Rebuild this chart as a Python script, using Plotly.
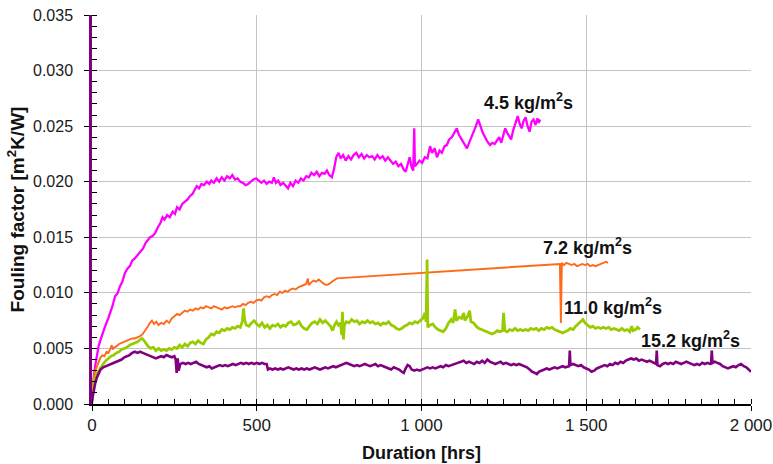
import plotly.graph_objects as go

# ---------------- data ----------------
x_tick_vals = [0, 500, 1000, 1500, 2000]
x_tick_text = ["0", "500", "1 000", "1 500", "2 000"]
y_tick_vals = [0.000, 0.005, 0.010, 0.015, 0.020, 0.025, 0.030, 0.035]

series_names = ["4.5 kg/m²s", "7.2 kg/m²s", "11.0 kg/m²s", "15.2 kg/m²s"]
series_colors = ["#ff00ff", "#ff6a1a", "#99cc00", "#800080"]

mag_hrs = [0, 3, 6, 10, 15, 20, 25, 32, 40, 48, 55, 62, 70, 78, 85, 92, 100, 108, 115, 122,
           130, 138, 146, 155, 163, 170, 176, 184, 192, 200, 208, 214, 220, 228, 236, 245, 252, 258, 266, 274,
           282, 290, 297, 305, 312, 318, 325, 332, 340, 348, 356, 362, 370, 378, 386, 394, 402, 410, 418, 426,
           434, 442, 450, 458, 466, 474, 482, 490, 498, 506, 514, 522, 530, 538, 546, 552, 558, 565, 572, 580,
           588, 595, 602, 610, 618, 626, 634, 642, 650, 658, 666, 674, 682, 690, 698, 706, 713, 720, 728, 735,
           741, 748, 755, 762, 770, 778, 786, 794, 802, 810, 818, 826, 834, 842, 850, 858, 866, 874, 882, 890,
           898, 906, 914, 922, 930, 938, 946, 952, 958, 964, 970, 975, 978, 980, 986, 994, 1002, 1010, 1018, 1026,
           1032, 1040, 1047, 1055, 1062, 1070, 1077, 1084, 1092, 1100, 1107, 1114, 1122, 1130, 1138, 1146, 1152, 1158, 1165, 1172,
           1178, 1186, 1193, 1200, 1208, 1215, 1222, 1230, 1236, 1242, 1248, 1254, 1260, 1266, 1272, 1278, 1285, 1292, 1298, 1304,
           1310, 1316, 1322, 1328, 1334, 1340, 1346, 1352, 1356, 1360]
mag_val = [0.0000, 0.0018, 0.0026, 0.0035, 0.0044, 0.0052, 0.0057, 0.0064, 0.0070, 0.0076, 0.0082, 0.0088, 0.0097, 0.0100, 0.0106, 0.0110, 0.0118, 0.0122, 0.0124, 0.0129,
           0.0131, 0.0134, 0.0136, 0.0140, 0.0145, 0.0148, 0.0150, 0.0151, 0.0154, 0.0159, 0.0163, 0.0168, 0.0166, 0.0170, 0.0168, 0.0173, 0.0171, 0.0177, 0.0175, 0.0180,
           0.0182, 0.0184, 0.0187, 0.0189, 0.0193, 0.0196, 0.0194, 0.0198, 0.0197, 0.0200, 0.0198, 0.0201, 0.0199, 0.0203, 0.0200, 0.0204, 0.0201, 0.0205, 0.0203, 0.0206,
           0.0202, 0.0203, 0.0200, 0.0199, 0.0197, 0.0198, 0.0200, 0.0202, 0.0203, 0.0201, 0.0199, 0.0201, 0.0198, 0.0200, 0.0199, 0.0204, 0.0199, 0.0201, 0.0197, 0.0199,
           0.0196, 0.0194, 0.0199, 0.0196, 0.0201, 0.0199, 0.0203, 0.0201, 0.0205, 0.0204, 0.0208, 0.0206, 0.0209, 0.0205, 0.0208, 0.0207, 0.0210, 0.0206, 0.0204, 0.0212,
           0.0222, 0.0226, 0.0221, 0.0224, 0.0219, 0.0223, 0.0220, 0.0224, 0.0226, 0.0222, 0.0225, 0.0221, 0.0224, 0.0222, 0.0223, 0.0220, 0.0224, 0.0221, 0.0223, 0.0219,
           0.0222, 0.0219, 0.0216, 0.0218, 0.0214, 0.0216, 0.0211, 0.0209, 0.0215, 0.0222, 0.0213, 0.0210, 0.0248, 0.0214, 0.0216, 0.0219, 0.0217, 0.0222, 0.0221, 0.0232,
           0.0226, 0.0230, 0.0222, 0.0228, 0.0226, 0.0232, 0.0233, 0.0238, 0.0240, 0.0244, 0.0248, 0.0242, 0.0238, 0.0235, 0.0230, 0.0236, 0.0240, 0.0244, 0.0250, 0.0256,
           0.0250, 0.0244, 0.0240, 0.0236, 0.0233, 0.0235, 0.0234, 0.0238, 0.0240, 0.0235, 0.0243, 0.0248, 0.0244, 0.0241, 0.0238, 0.0246, 0.0252, 0.0259, 0.0252, 0.0248,
           0.0255, 0.0258, 0.0250, 0.0245, 0.0254, 0.0256, 0.0251, 0.0257, 0.0253, 0.0256]

ora_hrs = [0, 3, 6, 10, 15, 20, 26, 32, 38, 44, 50, 56, 60, 63, 68, 75, 82, 90, 98, 106,
           114, 122, 130, 138, 146, 154, 162, 170, 176, 182, 188, 195, 202, 210, 218, 226, 234, 242, 250, 258,
           266, 274, 282, 290, 298, 306, 314, 322, 330, 338, 346, 354, 362, 370, 378, 386, 394, 402, 410, 418,
           426, 434, 442, 450, 458, 466, 474, 482, 490, 498, 506, 514, 522, 530, 538, 546, 554, 562, 570, 578,
           586, 594, 602, 610, 618, 626, 634, 642, 650, 655, 658, 664, 672, 680, 688, 696, 704, 712, 720, 728,
           736, 743, 1420, 1423, 1426, 1432, 1440, 1448, 1456, 1464, 1472, 1480, 1488, 1496, 1504, 1512, 1520, 1528, 1536, 1544,
           1552, 1560, 1566]
ora_val = [0.0008, 0.0018, 0.0025, 0.0030, 0.0034, 0.0038, 0.0042, 0.0044, 0.0043, 0.0047, 0.0046, 0.0050, 0.0053, 0.0049, 0.0051, 0.0052, 0.0054, 0.0055, 0.0056, 0.0057,
           0.0058, 0.0059, 0.0059, 0.0060, 0.0061, 0.0063, 0.0066, 0.0070, 0.0073, 0.0075, 0.0072, 0.0074, 0.0071, 0.0073, 0.0072, 0.0075, 0.0073, 0.0077, 0.0079, 0.0081,
           0.0080, 0.0082, 0.0084, 0.0083, 0.0085, 0.0084, 0.0086, 0.0085, 0.0087, 0.0086, 0.0088, 0.0087, 0.0086, 0.0088, 0.0087, 0.0086, 0.0085, 0.0087, 0.0086, 0.0087,
           0.0088, 0.0087, 0.0088, 0.0088, 0.0090, 0.0089, 0.0091, 0.0092, 0.0091, 0.0093, 0.0094, 0.0093, 0.0096, 0.0097, 0.0096, 0.0098, 0.0099, 0.0098, 0.0101, 0.0100,
           0.0102, 0.0101, 0.0103, 0.0104, 0.0103, 0.0105, 0.0106, 0.0107, 0.0108, 0.0113, 0.0107, 0.0109, 0.0111, 0.0110, 0.0112, 0.0110, 0.0108, 0.0107, 0.0108, 0.0110,
           0.0112, 0.0113, 0.0126, 0.0073, 0.0127, 0.0125, 0.0127, 0.0126, 0.0125, 0.0126, 0.0124, 0.0125, 0.0126, 0.0125, 0.0126, 0.0124, 0.0125, 0.0124, 0.0125, 0.0126,
           0.0127, 0.0128, 0.0127]

grn_hrs = [0, 4, 8, 14, 20, 26, 34, 42, 50, 58, 66, 74, 82, 90, 98, 106, 114, 122, 130, 138,
           146, 152, 158, 164, 170, 178, 186, 194, 202, 210, 218, 226, 234, 242, 250, 258, 266, 274, 282, 290,
           298, 306, 314, 322, 330, 338, 346, 354, 362, 370, 378, 386, 394, 402, 410, 418, 426, 434, 442, 450,
           456, 460, 463, 468, 476, 484, 492, 500, 508, 516, 524, 532, 540, 548, 556, 564, 572, 580, 588, 596,
           604, 612, 620, 628, 636, 644, 652, 660, 668, 676, 684, 692, 700, 708, 716, 724, 730, 736, 742, 748,
           754, 758, 760, 763, 766, 772, 780, 788, 796, 804, 812, 820, 828, 836, 844, 852, 860, 868, 876, 884,
           892, 900, 908, 916, 924, 932, 940, 948, 956, 964, 972, 980, 988, 996, 1004, 1010, 1014, 1017, 1019, 1026,
           1034, 1042, 1050, 1058, 1066, 1074, 1082, 1090, 1096, 1102, 1106, 1114, 1122, 1128, 1132, 1140, 1146, 1150, 1158, 1166,
           1174, 1182, 1190, 1198, 1206, 1214, 1222, 1230, 1238, 1246, 1249, 1253, 1260, 1268, 1276, 1284, 1292, 1300, 1308, 1316,
           1324, 1332, 1340, 1348, 1356, 1364, 1372, 1380, 1388, 1396, 1404, 1412, 1420, 1428, 1436, 1444, 1452, 1460, 1468, 1476,
           1484, 1490, 1496, 1504, 1512, 1520, 1528, 1536, 1544, 1552, 1560, 1568, 1576, 1584, 1592, 1600, 1608, 1616, 1624, 1632,
           1638, 1642, 1650, 1656, 1663]
grn_val = [0.0008, 0.0016, 0.0022, 0.0027, 0.0030, 0.0033, 0.0036, 0.0039, 0.0041, 0.0043, 0.0044, 0.0046, 0.0047, 0.0049, 0.0050, 0.0051, 0.0053, 0.0054, 0.0055, 0.0056,
           0.0058, 0.0059, 0.0057, 0.0054, 0.0052, 0.0050, 0.0051, 0.0048, 0.0050, 0.0048, 0.0049, 0.0048, 0.0050, 0.0049, 0.0051, 0.0050, 0.0053, 0.0051, 0.0054, 0.0052,
           0.0055, 0.0056, 0.0054, 0.0057, 0.0055, 0.0054, 0.0058, 0.0060, 0.0063, 0.0062, 0.0065, 0.0064, 0.0067, 0.0066, 0.0068, 0.0067, 0.0069, 0.0068, 0.0070, 0.0069,
           0.0074, 0.0086, 0.0076, 0.0071, 0.0070, 0.0073, 0.0075, 0.0072, 0.0070, 0.0073, 0.0069, 0.0071, 0.0068, 0.0071, 0.0070, 0.0072, 0.0069, 0.0071, 0.0070, 0.0073,
           0.0074, 0.0071, 0.0072, 0.0074, 0.0070, 0.0068, 0.0067, 0.0070, 0.0073, 0.0074, 0.0072, 0.0076, 0.0073, 0.0075, 0.0072, 0.0070, 0.0066, 0.0071, 0.0074, 0.0071,
           0.0073, 0.0062, 0.0083, 0.0058, 0.0071, 0.0074, 0.0073, 0.0076, 0.0074, 0.0075, 0.0072, 0.0074, 0.0073, 0.0075, 0.0073, 0.0074, 0.0072, 0.0073, 0.0071, 0.0073,
           0.0072, 0.0074, 0.0071, 0.0070, 0.0068, 0.0067, 0.0068, 0.0070, 0.0071, 0.0073, 0.0072, 0.0074, 0.0073, 0.0075, 0.0077, 0.0082, 0.0074, 0.0130, 0.0069, 0.0071,
           0.0072, 0.0069, 0.0067, 0.0066, 0.0065, 0.0068, 0.0073, 0.0076, 0.0073, 0.0085, 0.0075, 0.0078, 0.0077, 0.0082, 0.0075, 0.0079, 0.0084, 0.0074, 0.0073, 0.0070,
           0.0068, 0.0067, 0.0066, 0.0065, 0.0064, 0.0063, 0.0064, 0.0066, 0.0065, 0.0066, 0.0082, 0.0066, 0.0065, 0.0067, 0.0066, 0.0068, 0.0066, 0.0067, 0.0066, 0.0067,
           0.0066, 0.0068, 0.0067, 0.0068, 0.0066, 0.0068, 0.0067, 0.0069, 0.0068, 0.0069, 0.0067, 0.0066, 0.0065, 0.0064, 0.0065, 0.0066, 0.0068, 0.0067, 0.0070, 0.0072,
           0.0074, 0.0076, 0.0073, 0.0071, 0.0069, 0.0070, 0.0068, 0.0069, 0.0068, 0.0069, 0.0068, 0.0069, 0.0067, 0.0068, 0.0067, 0.0066, 0.0068, 0.0066, 0.0067, 0.0065,
           0.0070, 0.0066, 0.0067, 0.0069, 0.0067]

pur_hrs = [0, 3, 6, 10, 15, 20, 26, 34, 42, 50, 58, 66, 74, 82, 90, 98, 106, 114, 122, 130,
           138, 146, 154, 162, 170, 178, 186, 194, 202, 210, 218, 226, 234, 242, 250, 254, 257, 260, 263, 268,
           276, 284, 292, 300, 308, 316, 324, 332, 340, 348, 356, 364, 372, 380, 388, 396, 404, 412, 420, 428,
           436, 444, 452, 460, 468, 476, 484, 492, 500, 508, 516, 524, 530, 534, 540, 548, 556, 564, 572, 580,
           588, 596, 604, 612, 620, 628, 636, 644, 652, 660, 668, 676, 684, 692, 700, 708, 716, 724, 732, 740,
           748, 756, 764, 772, 780, 788, 796, 804, 812, 820, 828, 836, 844, 852, 860, 868, 876, 884, 892, 900,
           908, 916, 924, 932, 940, 946, 952, 958, 964, 970, 978, 986, 994, 1002, 1010, 1018, 1026, 1034, 1042, 1050,
           1058, 1066, 1074, 1082, 1090, 1100, 1110, 1120, 1128, 1136, 1144, 1152, 1160, 1168, 1176, 1184, 1192, 1200, 1208, 1216,
           1224, 1232, 1240, 1248, 1256, 1264, 1272, 1280, 1288, 1296, 1304, 1312, 1320, 1328, 1336, 1344, 1350, 1356, 1364, 1372,
           1380, 1388, 1396, 1404, 1412, 1420, 1428, 1436, 1444, 1448, 1450, 1452, 1460, 1468, 1476, 1484, 1492, 1500, 1508, 1516,
           1524, 1532, 1540, 1548, 1556, 1564, 1572, 1580, 1588, 1596, 1604, 1612, 1620, 1628, 1636, 1644, 1652, 1660, 1668, 1676,
           1684, 1692, 1700, 1708, 1712, 1714, 1716, 1724, 1732, 1740, 1748, 1756, 1764, 1772, 1780, 1788, 1796, 1804, 1812, 1820,
           1828, 1836, 1844, 1852, 1860, 1868, 1876, 1879, 1881, 1883, 1890, 1898, 1906, 1914, 1922, 1930, 1938, 1946, 1954, 1962,
           1970, 1978, 1986, 1994, 2000]
pur_val = [0.0003, 0.0009, 0.0014, 0.0019, 0.0024, 0.0028, 0.0031, 0.0033, 0.0034, 0.0035, 0.0036, 0.0037, 0.0038, 0.0039, 0.0040, 0.0042, 0.0043, 0.0044, 0.0046, 0.0047,
           0.0046, 0.0047, 0.0046, 0.0045, 0.0044, 0.0043, 0.0042, 0.0041, 0.0042, 0.0043, 0.0042, 0.0044, 0.0043, 0.0042, 0.0043, 0.0040, 0.0028, 0.0041, 0.0030, 0.0036,
           0.0037, 0.0036, 0.0037, 0.0036, 0.0037, 0.0038, 0.0036, 0.0035, 0.0034, 0.0033, 0.0034, 0.0032, 0.0033, 0.0034, 0.0035, 0.0034, 0.0035, 0.0034, 0.0035, 0.0036,
           0.0035, 0.0036, 0.0037, 0.0036, 0.0037, 0.0036, 0.0037, 0.0036, 0.0037, 0.0036, 0.0037, 0.0036, 0.0036, 0.0031, 0.0032, 0.0031, 0.0032, 0.0031, 0.0032, 0.0031,
           0.0032, 0.0033, 0.0032, 0.0031, 0.0032, 0.0031, 0.0032, 0.0031, 0.0032, 0.0031, 0.0032, 0.0033, 0.0032, 0.0031, 0.0032, 0.0033, 0.0032, 0.0033, 0.0034, 0.0033,
           0.0034, 0.0035, 0.0036, 0.0037, 0.0036, 0.0035, 0.0034, 0.0035, 0.0034, 0.0035, 0.0036, 0.0035, 0.0034, 0.0035, 0.0036, 0.0034, 0.0035, 0.0034, 0.0033, 0.0032,
           0.0031, 0.0033, 0.0032, 0.0031, 0.0029, 0.0028, 0.0032, 0.0035, 0.0034, 0.0031, 0.0030, 0.0031, 0.0030, 0.0031, 0.0032, 0.0033, 0.0032, 0.0033, 0.0032, 0.0033,
           0.0034, 0.0033, 0.0035, 0.0034, 0.0035, 0.0036, 0.0037, 0.0038, 0.0039, 0.0037, 0.0038, 0.0037, 0.0036, 0.0038, 0.0037, 0.0039, 0.0037, 0.0040, 0.0038, 0.0037,
           0.0036, 0.0037, 0.0038, 0.0036, 0.0037, 0.0036, 0.0035, 0.0036, 0.0035, 0.0036, 0.0035, 0.0034, 0.0033, 0.0031, 0.0029, 0.0028, 0.0027, 0.0029, 0.0030, 0.0031,
           0.0032, 0.0031, 0.0032, 0.0033, 0.0032, 0.0033, 0.0034, 0.0033, 0.0034, 0.0034, 0.0048, 0.0035, 0.0036, 0.0035, 0.0034, 0.0035, 0.0033, 0.0032, 0.0031, 0.0029,
           0.0030, 0.0032, 0.0033, 0.0034, 0.0035, 0.0034, 0.0036, 0.0035, 0.0037, 0.0036, 0.0038, 0.0037, 0.0039, 0.0040, 0.0041, 0.0040, 0.0041, 0.0039, 0.0040, 0.0039,
           0.0038, 0.0039, 0.0038, 0.0037, 0.0036, 0.0048, 0.0035, 0.0034, 0.0036, 0.0037, 0.0036, 0.0037, 0.0036, 0.0038, 0.0037, 0.0036, 0.0037, 0.0038, 0.0037, 0.0036,
           0.0035, 0.0036, 0.0035, 0.0037, 0.0036, 0.0037, 0.0036, 0.0037, 0.0048, 0.0037, 0.0038, 0.0037, 0.0036, 0.0034, 0.0033, 0.0032, 0.0033, 0.0034, 0.0033, 0.0035,
           0.0036, 0.0034, 0.0033, 0.0031, 0.0029]

label_text = ["4.5 kg/m<sup>2</sup>s", "7.2 kg/m<sup>2</sup>s", "11.0 kg/m<sup>2</sup>s", "15.2 kg/m<sup>2</sup>s"]
label_x = [1326, 1503, 1581, 1815]
label_y = [0.0272, 0.0142, 0.0088, 0.0058]

# ---------------- figure ----------------
FONT = "Liberation Sans, Arial, sans-serif"
fig = go.Figure()

all_x = [mag_hrs, ora_hrs, grn_hrs, pur_hrs]
all_y = [mag_val, ora_val, grn_val, pur_val]
widths = [2.3, 1.9, 2.8, 2.6]
for name, xs, ys, col, w in zip(series_names, all_x, all_y, series_colors, widths):
    fig.add_trace(go.Scatter(x=xs, y=ys, mode="lines", name=name,
                             line=dict(color=col, width=w), showlegend=False))

for t, ax, ay in zip(label_text, label_x, label_y):
    fig.add_annotation(x=ax, y=ay, text=f"<b>{t}</b>", showarrow=False,
                       font=dict(family=FONT, size=18, color="#111111"),
                       xanchor="center", yanchor="middle")

fig.update_layout(
    width=773, height=464,
    margin=dict(l=92, r=22, t=15, b=60, autoexpand=False),
    paper_bgcolor="white", plot_bgcolor="white",
    font=dict(family=FONT, color="#1a1a1a"),
)

fig.update_xaxes(
    range=[0, 2000], automargin=False,
    tickmode="array", tickvals=x_tick_vals, ticktext=x_tick_text,
    tickfont=dict(size=17, color="#1a1a1a"),
    ticks="outside", ticklen=5, tickcolor="black", tickwidth=1,
    minor=dict(ticks="inside", dtick=50, ticklen=5, tickcolor="black", tickwidth=1, showgrid=False),
    showline=True, linecolor="black", linewidth=1.5,
    showgrid=True, gridcolor="#c4c4c4", gridwidth=1,
    zeroline=False,
    title=dict(text="<b>Duration [hrs]</b>", font=dict(size=18, color="#111111"), standoff=12),
)

fig.update_yaxes(
    range=[0, 0.035], automargin=False,
    tickmode="array", tickvals=y_tick_vals, tickformat=".3f",
    tickfont=dict(size=16, color="#1a1a1a"),
    ticks="outside", ticklen=5, tickcolor="black", tickwidth=1,
    minor=dict(ticks="inside", dtick=0.001, ticklen=5, tickcolor="black", tickwidth=1, showgrid=False),
    showline=True, linecolor="#800080", linewidth=2.5,
    showgrid=True, gridcolor="#c4c4c4", gridwidth=1,
    zeroline=False,
    ticklabelstandoff=8,
    title=dict(text="<b>Fouling factor [m<sup>2</sup>K/W]</b>", font=dict(size=19, color="#111111"), standoff=4),
)

# remove the browser's default 8px body margin so the figure sits at the page origin
fig.write_html("out.html", config={"displayModeBar": False},
               post_script="document.body.style.margin='0';")
